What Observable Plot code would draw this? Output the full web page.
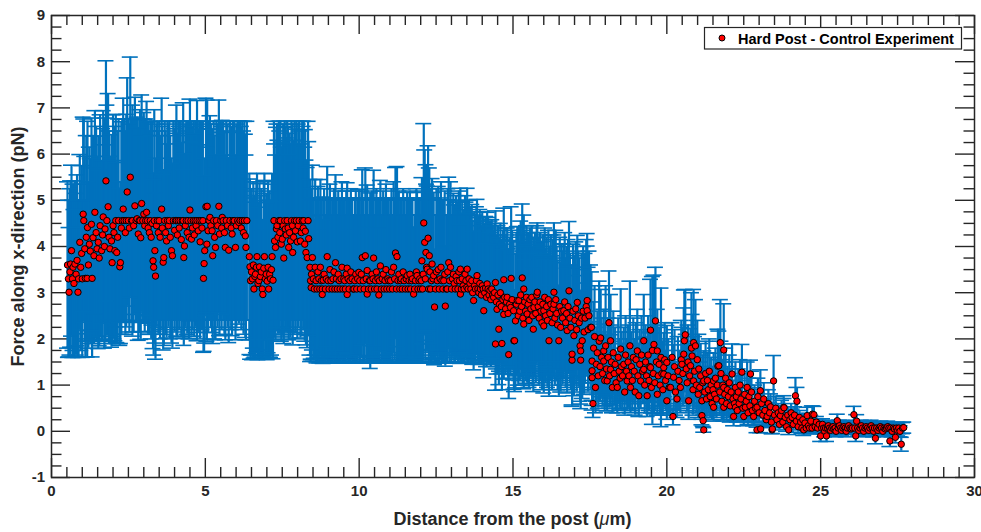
<!DOCTYPE html>
<html><head><meta charset="utf-8">
<script src="https://cdn.jsdelivr.net/npm/d3@7"></script>
<script src="https://cdn.jsdelivr.net/npm/@observablehq/plot@0.6"></script>
<style>
html,body{margin:0;padding:0;background:#fff;}
#chart{position:relative;width:981px;height:532px;}
</style></head><body><div id="chart"></div>
<script>
// Distance from the post (µm)
const distance = [
// 0.5–1.5
0.52,0.55,0.57,0.60,0.62,0.65,0.68,0.70,0.73,0.76,
0.80,0.83,0.86,0.88,0.92,0.95,0.98,1.00,1.03,1.05,
1.08,1.10,1.13,1.16,1.17,1.20,1.23,1.26,1.30,1.32,
1.35,1.38,1.41,1.45,1.48,
// 1.5–3.1
1.52,1.55,1.58,1.63,1.66,1.68,1.72,1.74,1.77,1.80,
1.84,1.87,1.90,1.95,1.97,2.00,2.03,2.06,2.09,2.12,
2.15,2.18,2.22,2.24,2.27,2.30,2.33,2.36,2.40,2.43,
2.46,2.50,2.53,2.56,2.60,2.63,2.67,2.71,2.75,2.78,
2.82,2.85,2.88,2.90,2.93,2.97,3.00,3.03,3.06,3.09,
// 3.1–6.4
3.12,3.14,3.18,3.21,3.24,3.27,3.30,3.32,3.34,3.36,
3.38,3.41,3.44,3.47,3.50,3.53,3.58,3.60,3.63,3.65,
3.68,3.71,3.74,3.77,3.80,3.83,3.86,3.90,3.93,3.96,
4.00,4.03,4.06,4.09,4.12,4.15,4.18,4.22,4.25,4.28,
4.30,4.32,4.35,4.38,4.41,4.44,4.47,4.50,4.53,4.55,
4.58,4.61,4.64,4.67,4.70,4.73,4.77,4.80,4.83,4.86,
4.89,4.92,4.94,4.96,4.98,5.02,5.05,5.06,5.09,5.12,
5.15,5.18,5.22,5.24,5.27,5.30,5.33,5.36,5.40,5.44,
5.46,5.50,5.53,5.55,5.58,5.62,5.65,5.68,5.72,5.76,
5.80,5.84,5.87,5.90,5.94,5.98,6.01,6.05,6.09,6.13,
6.17,6.20,6.24,6.27,6.30,6.32,6.35,
// 6.4–7.2
6.43,6.45,6.47,6.50,6.53,6.56,6.58,6.61,6.63,6.66,
6.68,6.71,6.74,6.76,6.79,6.82,6.85,6.87,6.90,6.92,
6.95,6.98,7.01,7.04,7.06,7.09,7.12,7.15,7.17,7.20,
// 7.2–8.4
7.23,7.25,7.28,7.31,7.33,7.36,7.39,7.42,7.44,7.47,
7.50,7.53,7.55,7.58,7.60,7.63,7.66,7.69,7.71,7.74,
7.77,7.80,7.83,7.84,7.87,7.90,7.93,7.96,7.99,8.02,
8.05,8.09,8.12,8.15,8.18,8.20,8.23,8.25,8.27,8.31,
8.34,8.36,
// 8.4–12
8.40,8.42,8.44,8.45,8.48,8.51,8.54,8.57,8.60,8.63,
8.66,8.69,8.72,8.74,8.77,8.80,8.80,8.83,8.86,8.90,
8.93,8.96,8.99,9.02,9.05,9.08,9.12,9.15,9.18,9.21,
9.23,9.26,9.29,9.32,9.35,9.38,9.41,9.44,9.47,9.50,
9.53,9.55,9.58,9.61,9.61,9.64,9.67,9.70,9.73,9.77,
9.80,9.83,9.86,9.89,9.92,9.95,9.99,10.02,10.04,10.07,
10.10,10.13,10.16,10.20,10.23,10.26,10.26,10.30,10.33,10.36,
10.39,10.42,10.45,10.47,10.50,10.53,10.56,10.58,10.61,10.64,
10.66,10.69,10.72,10.75,10.78,10.81,10.84,10.87,10.90,10.93,
10.96,10.99,11.02,11.05,11.08,11.12,11.15,11.18,11.21,11.23,
11.26,11.29,11.32,11.34,11.37,11.40,11.43,11.46,11.50,11.53,
11.56,11.59,11.62,11.65,11.67,11.70,11.73,11.77,11.80,11.83,
11.86,11.88,11.91,11.94,11.97,11.99,
// 12–15
12.02,12.04,12.06,12.08,12.10,12.13,12.15,12.17,12.19,12.21,
12.24,12.26,12.28,12.30,12.32,12.35,12.37,12.40,12.42,12.45,
12.48,12.51,12.54,12.57,12.60,12.63,12.66,12.69,12.72,12.75,
12.78,12.80,12.83,12.86,12.88,12.91,12.94,12.97,13.00,13.03,
13.06,13.09,13.12,13.15,13.18,13.21,13.24,13.26,13.29,13.29,
13.32,13.35,13.38,13.41,13.44,13.47,13.50,13.51,13.54,13.57,
13.60,13.63,13.66,13.69,13.72,13.75,13.78,13.81,13.83,13.86,
13.89,13.92,13.94,13.97,14.00,14.03,14.05,14.08,14.11,14.14,
14.16,14.19,14.22,14.25,14.28,14.31,14.34,14.37,14.40,14.43,
14.43,14.46,14.48,14.51,14.54,14.56,14.59,14.62,14.64,14.67,
14.70,14.70,14.73,14.76,14.79,14.81,14.84,14.86,14.89,14.92,
14.94,14.97,
// 15–17.5
15.02,15.03,15.05,15.08,15.11,15.14,15.17,15.19,15.22,15.25,
15.28,15.30,15.32,15.35,15.35,15.38,15.41,15.44,15.46,15.49,
15.52,15.55,15.58,15.61,15.64,15.66,15.68,15.71,15.74,15.77,
15.79,15.82,15.85,15.88,15.91,15.94,15.97,16.00,16.00,16.03,
16.06,16.09,16.12,16.15,16.17,16.20,16.23,16.27,16.30,16.33,
16.33,16.36,16.39,16.42,16.45,16.49,16.52,16.55,16.58,16.61,
16.65,16.68,16.71,16.74,16.76,16.79,16.82,16.85,16.88,16.92,
16.92,16.95,16.98,17.01,17.04,17.07,17.09,17.12,17.15,17.18,
17.20,17.20,17.23,17.25,17.28,17.31,17.34,17.38,17.41,17.41,
17.44,17.47,17.52,
// 17.5–20
17.55,17.57,17.57,17.57,17.60,17.62,17.65,17.68,17.71,17.74,
17.77,17.80,17.83,17.85,17.88,17.91,17.95,17.95,17.98,18.01,
18.04,18.06,18.09,18.12,18.14,18.17,18.17,18.20,18.23,18.26,
18.29,18.32,18.35,18.39,18.42,18.45,18.48,18.50,18.53,18.56,
18.60,18.63,18.66,18.69,18.71,18.74,18.77,18.80,18.82,18.85,
18.88,18.91,18.94,18.97,19.00,19.04,19.06,19.09,19.12,19.15,
19.18,19.21,19.25,19.25,19.28,19.31,19.34,19.36,19.39,19.42,
19.45,19.47,19.47,19.50,19.53,19.56,19.58,19.61,19.63,19.66,
19.69,19.69,19.72,19.75,19.78,19.81,19.84,19.87,19.90,19.90,
19.93,19.96,20.00,20.00,
// 20–22
20.04,20.08,20.12,20.17,20.20,20.22,20.25,20.28,20.33,20.36,
20.40,20.44,20.47,20.49,20.52,20.55,20.57,20.60,20.63,20.66,
20.69,20.71,20.74,20.77,20.80,20.82,20.85,20.87,20.87,20.90,
20.93,20.96,20.99,21.02,21.04,21.07,21.10,21.14,21.14,21.17,
21.18,21.20,21.20,21.23,21.26,21.29,21.32,21.35,21.38,21.41,
21.44,21.47,21.50,21.52,21.52,21.55,21.58,21.61,21.64,21.66,
21.69,21.72,21.74,21.76,21.79,21.82,21.85,21.85,21.85,21.88,
21.91,21.94,21.97,
// 22–25
22.00,22.03,22.06,22.09,22.12,22.15,22.17,22.20,22.23,22.23,
22.26,22.29,22.32,22.35,22.38,22.41,22.44,22.47,22.50,22.53,
22.55,22.58,22.61,22.64,22.67,22.70,22.72,22.75,22.78,22.82,
22.85,22.88,22.93,22.93,22.96,23.00,23.04,23.05,23.08,23.12,
23.15,23.19,23.23,23.26,23.30,23.34,23.37,23.40,23.42,23.43,
23.47,23.50,23.54,23.58,23.62,23.66,23.69,23.73,23.77,23.80,
23.81,23.85,23.89,23.93,23.96,24.00,24.04,24.07,24.11,24.15,
24.18,24.21,24.23,24.27,24.31,24.35,24.39,24.42,24.45,24.49,
24.53,24.56,24.60,24.64,24.68,24.72,24.73,24.78,24.82,24.86,
24.90,24.95,
// 25–27.7
25.00,25.03,25.06,25.10,25.13,25.16,25.19,25.22,25.25,25.29,
25.32,25.36,25.40,25.43,25.47,25.50,25.54,25.57,25.61,25.65,
25.68,25.72,25.76,25.80,25.83,25.87,25.91,25.95,25.99,26.03,
26.08,26.11,26.14,26.17,26.20,26.24,26.28,26.32,26.36,26.40,
26.44,26.48,26.52,26.56,26.60,26.64,26.68,26.72,26.75,26.78,
26.82,26.86,26.90,26.94,26.98,27.02,27.06,27.10,27.14,27.18,
27.22,27.25,27.28,27.32,27.36,27.40,27.43,27.46,27.50,27.54,
27.58,27.62,27.66,27.70
];

// Force along x-direction (pN)
const force = [
// 0.5–1.5
3.60,3.30,3.01,3.45,3.62,3.91,3.30,3.55,3.20,3.62,
3.40,3.70,3.01,3.30,4.09,3.55,3.85,3.30,4.70,4.56,
3.95,3.31,4.20,3.31,4.41,3.60,4.05,3.90,4.48,3.31,
4.19,3.80,4.74,4.30,3.95,
// 1.5–3.1
4.09,3.75,4.45,3.91,4.25,4.64,4.00,4.38,5.42,4.56,
4.86,4.20,3.95,4.12,3.65,4.45,4.30,3.91,4.56,3.87,
4.20,4.56,3.56,3.65,4.40,4.56,4.81,4.56,4.30,4.56,
5.18,4.56,4.40,5.50,4.56,4.56,4.45,4.88,4.56,4.60,
4.27,4.56,4.56,4.19,4.93,4.56,4.70,4.45,4.56,4.74,
// 3.1–6.4
4.56,4.40,4.30,4.56,4.20,4.50,3.69,3.55,4.56,3.91,
3.36,4.45,4.56,4.30,4.56,4.20,4.81,4.40,3.66,3.76,
4.56,4.30,4.12,4.56,4.45,4.56,4.20,3.91,3.80,4.56,
4.35,4.56,4.56,4.25,4.56,4.40,4.56,4.15,4.56,4.56,
3.76,4.01,4.45,4.56,4.30,4.56,4.20,4.79,4.56,4.16,
4.40,4.56,4.25,4.56,4.45,4.56,4.34,4.56,4.10,4.56,
4.40,4.56,3.31,3.63,3.91,4.86,4.05,4.87,4.34,4.56,
4.63,4.45,4.34,3.80,4.56,4.20,3.98,4.56,4.45,4.87,
4.27,4.56,4.40,4.63,4.56,4.30,3.98,4.56,4.45,3.92,
4.56,4.40,4.27,4.56,4.56,3.98,4.45,4.56,4.52,4.56,
4.40,4.56,4.30,4.56,4.23,3.98,4.56,
// 6.4–7.2
3.78,3.56,3.26,3.45,3.30,3.60,3.08,3.35,3.40,3.55,
3.78,3.20,3.26,3.56,3.35,3.45,3.08,2.96,3.53,3.78,
3.30,3.40,3.25,3.55,3.08,3.40,3.30,3.50,3.78,3.27,
// 7.2–8.4
4.56,4.12,3.98,4.38,4.45,4.20,4.56,4.30,4.56,4.05,
4.16,4.45,3.75,4.56,4.38,4.25,4.56,4.40,3.98,4.30,
4.12,4.56,4.45,3.87,4.20,4.56,4.34,4.56,4.10,4.45,
4.56,4.12,4.30,4.56,4.40,4.56,4.05,4.33,3.87,3.76,
4.56,4.17,
// 8.4–12
3.55,3.26,3.11,3.40,3.76,3.30,3.08,3.55,3.26,3.08,
3.45,3.30,3.08,3.55,3.26,3.08,2.96,3.27,3.40,3.08,
3.30,3.78,3.26,3.08,3.50,3.26,3.08,3.30,3.45,3.08,
3.65,3.30,3.08,3.40,3.26,3.08,3.30,3.55,3.08,3.30,
3.26,3.08,3.40,3.53,2.96,3.30,3.08,3.26,3.45,3.30,
3.08,3.08,3.26,3.40,3.08,3.30,3.44,3.26,3.08,3.40,
3.76,3.26,3.08,3.80,3.30,3.48,2.97,3.08,3.26,3.26,
3.08,3.40,3.30,3.75,3.08,3.26,3.45,3.08,3.30,2.95,
3.26,3.58,3.08,3.30,3.40,3.08,3.26,3.50,3.08,3.30,
3.26,3.08,3.26,3.45,3.08,3.55,3.30,3.86,3.08,3.78,
3.26,3.40,3.08,3.26,3.30,3.08,3.45,3.26,3.08,3.30,
3.37,3.08,3.26,3.40,3.08,3.26,3.30,2.97,3.08,3.26,
3.45,3.37,3.08,3.26,3.30,3.08,
// 12–15
3.26,3.69,3.08,3.40,4.51,4.09,3.30,3.87,3.55,3.51,
4.18,3.08,3.80,3.45,3.08,3.26,3.62,3.30,3.37,2.69,
3.08,3.45,3.26,3.50,3.08,3.30,3.55,3.26,3.08,3.26,
3.40,2.71,3.08,3.08,3.45,3.65,3.26,3.55,3.08,3.30,
3.40,3.20,3.08,3.35,3.26,3.08,3.45,3.26,3.51,2.97,
3.08,3.30,3.15,3.08,3.40,3.26,3.12,3.51,3.08,3.30,
3.20,3.08,3.26,3.00,2.83,3.15,3.08,3.26,3.37,3.08,
3.00,3.20,3.08,2.95,3.15,3.08,2.61,3.00,3.10,2.90,
3.19,3.08,2.95,3.05,2.85,3.08,2.95,2.90,3.00,3.22,
1.89,2.80,2.64,2.95,2.21,2.75,3.00,2.70,1.90,2.85,
3.28,2.53,2.90,2.65,2.80,2.90,2.55,1.66,2.75,2.68,
3.31,2.85,
// 15–17.5
2.61,1.96,1.96,2.39,2.75,2.83,2.50,2.83,2.60,2.95,
2.70,3.32,2.45,3.08,2.32,2.80,2.60,2.90,2.54,2.75,
2.40,2.85,2.65,2.90,2.50,2.21,2.68,2.80,2.55,2.95,
3.01,2.70,2.45,2.80,2.60,2.35,2.75,2.61,2.28,2.90,
2.50,2.70,2.40,2.85,1.96,2.55,2.75,2.35,2.65,3.01,
2.75,2.45,2.85,2.55,2.30,1.96,2.70,2.25,2.60,2.45,
2.61,2.80,2.35,2.55,2.18,2.70,3.04,2.45,2.25,1.54,
1.67,2.60,2.07,2.40,2.65,2.20,2.79,2.50,2.35,1.85,
1.74,1.54,2.45,1.96,2.60,2.15,2.45,2.70,2.83,2.61,
2.20,2.50,2.25,
// 17.5–20
2.25,1.52,1.31,1.16,0.60,1.80,2.05,0.95,1.45,1.70,
1.20,1.95,1.40,2.02,1.60,1.25,1.74,1.52,1.10,1.85,
1.35,1.09,1.60,2.35,1.20,1.96,1.34,1.50,0.95,1.70,
1.25,1.45,1.05,0.95,1.60,1.30,1.15,1.78,1.40,1.20,
1.45,0.85,1.65,1.30,1.09,1.50,1.20,1.85,0.95,1.40,
1.10,1.60,1.30,0.85,1.55,1.74,1.20,0.77,1.45,1.09,
1.65,1.30,1.96,1.34,1.00,1.50,1.20,0.77,1.65,1.10,
1.40,2.19,1.38,0.95,1.75,1.25,1.88,1.05,2.39,1.50,
1.74,0.80,1.20,1.45,1.00,1.60,1.25,0.90,1.38,1.24,
1.55,1.10,1.49,0.66,
// 20–22
1.20,0.95,0.95,1.60,0.32,1.17,1.40,0.85,0.70,1.30,
1.10,0.95,1.55,1.45,1.25,1.67,1.96,2.09,1.35,1.05,
1.50,0.66,1.20,1.42,1.80,1.63,0.90,1.92,1.09,1.30,
1.85,1.00,1.55,0.80,1.35,0.95,1.20,0.66,0.34,1.05,
0.23,0.03,1.09,0.85,1.25,0.70,1.10,0.90,1.30,0.75,
1.00,0.60,0.90,1.09,0.52,0.80,1.15,0.70,1.00,1.41,
1.42,0.85,1.92,1.25,0.65,1.00,1.76,0.95,0.52,0.80,
1.15,0.60,0.90,
// 22–25
0.75,1.05,0.55,0.85,1.24,0.70,0.32,0.60,0.95,0.52,
0.75,0.45,0.85,0.60,1.00,0.70,1.28,0.50,0.32,0.80,
0.52,0.65,0.95,0.40,0.75,0.55,1.24,0.85,0.45,0.32,
0.65,0.50,0.52,0.03,0.75,0.40,0.88,0.05,0.60,0.35,
0.70,0.45,0.25,0.32,0.60,0.40,0.53,0.20,0.03,0.05,
1.09,0.35,0.50,0.25,0.40,0.15,0.34,0.45,0.20,0.52,
0.51,0.30,0.10,0.35,0.03,0.25,0.40,0.30,0.15,0.35,
0.77,0.22,0.65,0.10,0.30,0.20,0.07,0.25,0.03,0.18,
0.07,0.34,0.12,0.07,0.22,0.07,0.37,0.36,0.10,0.20,
0.07,0.15,
// 25–27.7
-0.10,0.07,0.15,0.07,0.00,0.07,-0.10,0.07,0.12,0.07,
0.02,0.07,0.10,0.05,0.07,0.00,0.23,0.07,0.12,0.07,
0.02,0.07,0.10,0.07,0.00,0.07,0.12,0.07,0.05,0.07,
0.36,0.07,-0.10,0.22,0.07,0.02,0.07,0.12,0.07,0.00,
0.07,0.10,0.07,0.02,0.07,0.12,0.07,0.00,0.07,-0.15,
0.07,0.02,0.07,0.10,0.07,0.00,0.07,0.05,0.07,0.10,
0.07,-0.21,0.07,0.00,0.07,0.05,-0.13,0.07,0.02,0.07,
0.00,-0.28,0.07,0.08
];

// Error (pN), symmetric
const forceErr = [
// 0.5–1.5
1.8,1.7,1.4,1.8,1.8,1.85,1.7,1.8,1.6,1.8,
1.75,1.85,1.4,1.7,1.9,1.8,1.9,1.7,2.1,2.2,
2.0,1.7,2.2,1.7,2.3,1.8,2.1,2.0,2.3,1.7,
2.2,1.9,2.2,2.3,2.0,
// 1.5–3.1
2.3,1.9,2.4,1.95,2.3,2.3,2.2,2.4,2.6,2.5,
2.45,2.3,2.0,2.3,1.75,2.4,2.3,1.95,2.3,1.95,
2.3,2.2,1.7,1.75,2.3,2.2,2.4,2.2,2.2,2.3,
2.47,2.2,2.25,2.6,2.2,2.5,2.3,2.35,2.2,2.2,
2.3,2.2,2.4,2.2,2.35,2.2,2.2,2.3,2.2,2.4,
// 3.1–6.4
2.15,2.3,2.2,2.15,2.2,2.2,1.9,1.9,2.4,2.0,
1.8,2.2,2.15,2.2,2.15,2.2,2.4,2.2,1.9,1.9,
2.15,2.2,2.1,2.15,2.2,2.15,2.2,2.0,2.0,2.15,
2.2,2.15,2.5,2.2,2.15,2.2,2.15,2.1,2.15,2.55,
1.9,2.0,2.2,2.15,2.2,2.15,2.2,2.4,2.15,2.1,
2.2,2.15,2.2,2.15,2.2,2.6,2.2,2.15,2.1,2.15,
2.2,2.15,1.6,1.9,2.0,2.35,2.1,2.3,2.2,2.15,
2.2,2.2,2.2,1.9,2.15,2.2,2.0,2.15,2.2,2.3,
2.2,2.15,2.2,2.1,2.15,2.2,2.0,2.15,2.2,2.0,
2.15,2.2,2.2,2.15,2.15,2.0,2.2,2.15,2.2,2.15,
2.2,2.15,2.2,2.15,2.2,2.0,2.15,
// 6.4–7.2
1.8,1.9,1.7,1.8,1.75,1.8,1.5,1.75,1.8,1.85,
1.8,1.65,1.7,1.8,1.75,1.8,1.5,1.4,1.9,1.8,
1.7,1.75,1.7,1.85,1.5,1.8,1.7,1.85,1.8,1.7,
// 7.2–8.4
2.15,2.1,2.0,2.2,2.2,2.1,2.15,2.2,2.15,2.1,
2.1,2.2,1.85,2.15,2.2,2.1,2.15,2.2,2.0,2.15,
2.1,2.15,2.2,2.0,2.1,2.15,2.2,2.15,2.1,2.2,
2.15,2.1,2.2,2.15,2.2,2.15,2.1,2.2,2.0,1.95,
2.15,2.1,
// 8.4–12
1.9,1.75,1.55,1.85,2.0,1.75,1.5,1.9,1.75,1.6,
1.85,1.75,1.6,1.9,1.75,1.5,1.4,1.8,1.85,1.6,
1.75,1.95,1.75,1.6,1.85,1.75,1.6,1.75,1.8,1.6,
1.9,1.75,1.6,1.8,1.75,1.6,1.75,1.85,1.6,1.75,
1.75,1.6,1.8,1.85,1.4,1.75,1.6,1.75,1.8,1.75,
1.6,1.6,1.75,1.8,1.6,1.75,1.8,1.75,1.6,1.8,
1.9,1.75,1.6,1.9,1.75,1.85,1.45,1.6,1.75,1.9,
1.6,1.8,1.75,1.9,1.6,1.75,1.8,1.6,1.75,1.45,
1.75,1.85,1.6,1.75,1.8,1.6,1.75,1.85,1.6,1.75,
1.75,1.6,1.75,1.8,1.6,1.85,1.75,1.85,1.6,1.95,
1.75,1.8,1.6,1.75,1.75,1.6,1.8,1.75,1.6,1.75,
1.8,1.6,1.75,1.8,1.6,1.75,1.75,1.45,1.6,1.75,
1.8,1.8,1.6,1.75,1.75,1.6,
// 12–15
1.75,1.8,1.6,1.8,2.15,2.0,1.75,1.9,1.8,1.8,
2.0,1.6,1.9,1.8,1.6,1.75,1.85,1.75,1.8,1.25,
1.6,1.8,1.75,1.8,1.6,1.75,1.85,1.75,1.6,1.75,
1.8,1.3,1.6,1.6,1.8,1.85,1.75,1.85,1.6,1.7,
1.75,1.7,1.6,1.75,1.7,1.6,1.75,1.7,1.75,1.5,
1.6,1.7,1.65,1.6,1.7,1.7,1.6,1.75,1.6,1.7,
1.65,1.6,1.65,1.55,1.5,1.6,1.6,1.6,1.65,1.55,
1.55,1.6,1.55,1.5,1.6,1.55,1.45,1.5,1.55,1.5,
1.55,1.55,1.5,1.5,1.45,1.5,1.5,1.45,1.5,1.55,
1.0,1.45,1.4,1.5,1.2,1.45,1.5,1.45,1.0,1.5,
1.55,1.4,1.5,1.4,1.45,1.5,1.4,0.95,1.45,1.45,
1.55,1.5,
// 15–17.5
1.5,1.05,1.1,1.45,1.55,1.6,1.5,1.6,1.5,1.6,
1.55,1.6,1.45,1.6,1.4,1.55,1.5,1.55,1.5,1.55,
1.45,1.55,1.5,1.55,1.5,1.35,1.5,1.5,1.5,1.5,
1.5,1.5,1.45,1.5,1.5,1.45,1.5,1.5,1.45,1.5,
1.45,1.5,1.45,1.5,1.2,1.45,1.5,1.45,1.5,1.5,
1.5,1.45,1.5,1.45,1.4,1.2,1.5,1.4,1.45,1.45,
1.45,1.5,1.4,1.45,1.35,1.45,1.5,1.4,1.35,1.0,
1.1,1.45,1.3,1.4,1.45,1.35,1.45,1.4,1.4,1.2,
1.15,1.05,1.4,1.25,1.4,1.35,1.4,1.45,1.45,1.4,
1.35,1.4,1.35,
// 17.5–20
1.2,0.85,0.75,0.7,0.3,1.0,1.1,0.55,0.8,0.9,
0.7,1.3,0.75,1.05,0.85,0.7,0.9,0.8,0.65,1.3,
0.75,0.65,0.85,1.12,0.7,1.0,0.75,0.8,0.55,0.9,
0.7,0.8,0.6,0.55,0.85,0.7,0.65,1.3,0.75,0.7,
0.8,0.5,0.85,0.7,0.6,0.8,0.7,1.4,0.55,0.75,
0.65,0.85,0.7,0.5,0.8,0.9,0.7,0.45,0.75,0.6,
0.85,0.7,1.0,0.7,0.6,0.8,0.7,0.45,0.85,0.65,
0.75,1.1,0.75,0.55,1.6,0.7,1.5,0.6,1.16,0.8,
0.9,0.45,0.7,0.8,0.6,1.5,0.7,0.55,0.75,0.7,
0.8,0.65,0.8,0.4,
// 20–22
0.8,0.6,0.55,0.75,0.18,0.7,0.8,0.5,0.4,0.75,
0.65,0.55,0.85,0.8,0.7,1.0,1.1,0.98,0.75,0.6,
0.8,0.4,0.7,0.8,1.2,0.9,0.55,1.15,0.65,0.75,
1.0,0.6,0.85,0.5,0.75,0.55,0.7,0.4,0.2,0.6,
0.12,0.05,0.65,0.5,0.7,0.4,0.6,0.5,0.7,0.45,
0.6,0.35,0.5,0.6,0.3,0.45,0.65,0.4,0.55,0.8,
0.75,0.5,0.93,0.7,0.4,0.55,1.0,0.55,0.3,0.45,
0.65,0.35,0.5,
// 22–25
0.45,0.6,0.35,0.5,0.65,0.4,0.2,0.35,0.55,0.3,
0.45,0.25,0.5,0.35,0.55,0.4,0.6,0.3,0.2,0.45,
0.3,0.35,0.55,0.25,0.4,0.3,0.3,0.45,0.25,0.2,
0.35,0.3,0.3,0.06,0.4,0.22,0.45,0.08,0.3,0.2,
0.35,0.25,0.15,0.2,0.3,0.22,0.28,0.12,0.08,0.1,
0.55,0.2,0.25,0.15,0.2,0.12,0.2,0.22,0.12,0.25,
0.2,0.15,0.1,0.18,0.1,0.15,0.2,0.18,0.12,0.18,
0.39,0.14,0.3,0.12,0.15,0.12,0.12,0.14,0.12,0.12,
0.12,0.18,0.12,0.12,0.12,0.12,0.18,0.18,0.12,0.12,
0.12,0.12,
// 25–27.7
0.12,0.12,0.12,0.12,0.12,0.12,0.12,0.12,0.12,0.12,
0.12,0.12,0.12,0.12,0.12,0.12,0.14,0.12,0.12,0.12,
0.12,0.12,0.12,0.12,0.12,0.12,0.12,0.12,0.12,0.12,
0.18,0.12,0.12,0.14,0.12,0.12,0.12,0.12,0.12,0.12,
0.12,0.12,0.12,0.12,0.12,0.12,0.12,0.12,0.12,0.12,
0.12,0.12,0.12,0.12,0.12,0.12,0.12,0.12,0.12,0.12,
0.12,0.12,0.12,0.12,0.12,0.12,0.12,0.12,0.12,0.12,
0.12,0.15,0.12,0.12
];

const xTicks = [0, 5, 10, 15, 20, 25, 30];
const yTicks = [-1, 0, 1, 2, 3, 4, 5, 6, 7, 8, 9];
const xLabelParts = ["Distance from the post (", "\u03bc", "m)"];
const yLabel = "Force along x-direction (pN)";
const seriesName = "Hard Post - Control Experiment";

const n = Math.min(distance.length, force.length, forceErr.length);
const rows = d3.range(n).map(i => ({x: distance[i], y: force[i], e: forceErr[i]}));

const W = 981, H = 532, mL = 51, mR = 7, mT = 15, mB = 55;
const font = "'Liberation Sans', Arial, Helvetica, sans-serif";
const axisColor = "#262626";
const blue = "#0072BD";
// convert fixed pixel lengths into data units of the fixed scales
const pxX = 30 / (W - mL - mR), pxY = 10 / (H - mT - mB);
const capHalf = 8 * pxX;
const xMajLen = 19 * pxY, xMinLen = 10 * pxY;
const yMajLen = 19 * pxX, yMinLen = 10.5 * pxX;
const xMinor = d3.range(0.5, 30, 0.5).filter(v => v % 5 !== 0);
const yMinor = d3.range(-0.75, 9, 0.25).filter(v => Math.abs(v - Math.round(v)) > 1e-9);

const tickStyle = {stroke: axisColor, strokeWidth: 1.4};
const svg = Plot.plot({
  width: W, height: H,
  marginLeft: mL, marginRight: mR, marginTop: mT, marginBottom: mB,
  style: {fontFamily: font, background: "white", overflow: "visible"},
  x: {domain: [0, 30], axis: null},
  y: {domain: [-1, 9], axis: null},
  marks: [
    // ticks (inward, all four sides)
    Plot.ruleX(xTicks, {x: d => d, y1: () => -1, y2: () => -1 + xMajLen, ...tickStyle}),
    Plot.ruleX(xMinor, {x: d => d, y1: () => -1, y2: () => -1 + xMinLen, ...tickStyle}),
    Plot.ruleX(xTicks, {x: d => d, y1: () => 9, y2: () => 9 - xMajLen, ...tickStyle}),
    Plot.ruleX(xMinor, {x: d => d, y1: () => 9, y2: () => 9 - xMinLen, ...tickStyle}),
    Plot.ruleY(yTicks, {y: d => d, x1: () => 0, x2: () => yMajLen, ...tickStyle}),
    Plot.ruleY(yMinor, {y: d => d, x1: () => 0, x2: () => yMinLen, ...tickStyle}),
    Plot.ruleY(yTicks, {y: d => d, x1: () => 30, x2: () => 30 - yMajLen, ...tickStyle}),
    Plot.ruleY(yMinor, {y: d => d, x1: () => 30, x2: () => 30 - yMinLen, ...tickStyle}),
    // error bars
    Plot.ruleX(rows, {x: "x", y1: d => d.y - d.e, y2: d => d.y + d.e, stroke: blue, strokeWidth: 2.2}),
    Plot.ruleY(rows, {y: d => d.y + d.e, x1: d => d.x - capHalf, x2: d => d.x + capHalf, stroke: blue, strokeWidth: 1.6}),
    Plot.ruleY(rows, {y: d => d.y - d.e, x1: d => d.x - capHalf, x2: d => d.x + capHalf, stroke: blue, strokeWidth: 1.6}),
    // markers
    Plot.dot(rows, {x: "x", y: "y", r: 3.2, fill: "#ff0000", stroke: "#000", strokeWidth: 1}),
    Plot.frame({stroke: axisColor, strokeWidth: 1.5}),
    // tick labels
    Plot.text(xTicks, {x: d => d, frameAnchor: "bottom", dy: 18, text: d => String(d),
      fontSize: 15, fontWeight: "bold", fill: axisColor}),
    Plot.text(yTicks, {y: d => d, frameAnchor: "left", dx: -6.5, textAnchor: "end", text: d => String(d),
      fontSize: 15, fontWeight: "bold", fill: axisColor}),
    // y label
    Plot.text([yLabel], {frameAnchor: "left", dx: -33, rotate: -90, textAnchor: "middle", text: d => d,
      fontSize: 18, fontWeight: "bold", fill: axisColor})
  ]
});
document.getElementById("chart").appendChild(svg);

const s = d3.select(svg);
// x label with italic mu
const xl = s.append("text")
  .attr("x", mL + (W - mL - mR) / 2).attr("y", 525)
  .attr("text-anchor", "middle")
  .attr("font-family", font).attr("font-size", 18).attr("font-weight", "bold")
  .attr("fill", axisColor);
xl.append("tspan").text(xLabelParts[0]);
xl.append("tspan").attr("font-style", "italic").attr("font-weight", "normal").text(xLabelParts[1]);
xl.append("tspan").text(xLabelParts[2]);

// legend
const lg = s.append("g");
lg.append("rect").attr("x", 704.5).attr("y", 27.5).attr("width", 257).attr("height", 21.5)
  .attr("fill", "white").attr("stroke", axisColor).attr("stroke-width", 1.2);
lg.append("circle").attr("cx", 722).attr("cy", 38).attr("r", 3)
  .attr("fill", "#ff0000").attr("stroke", "#000").attr("stroke-width", 1);
lg.append("text").attr("x", 738).attr("y", 44)
  .attr("text-anchor", "start")
  .attr("font-family", font).attr("font-size", 14.5).attr("font-weight", "bold")
  .attr("fill", "#000").text(seriesName);
</script></body></html>
